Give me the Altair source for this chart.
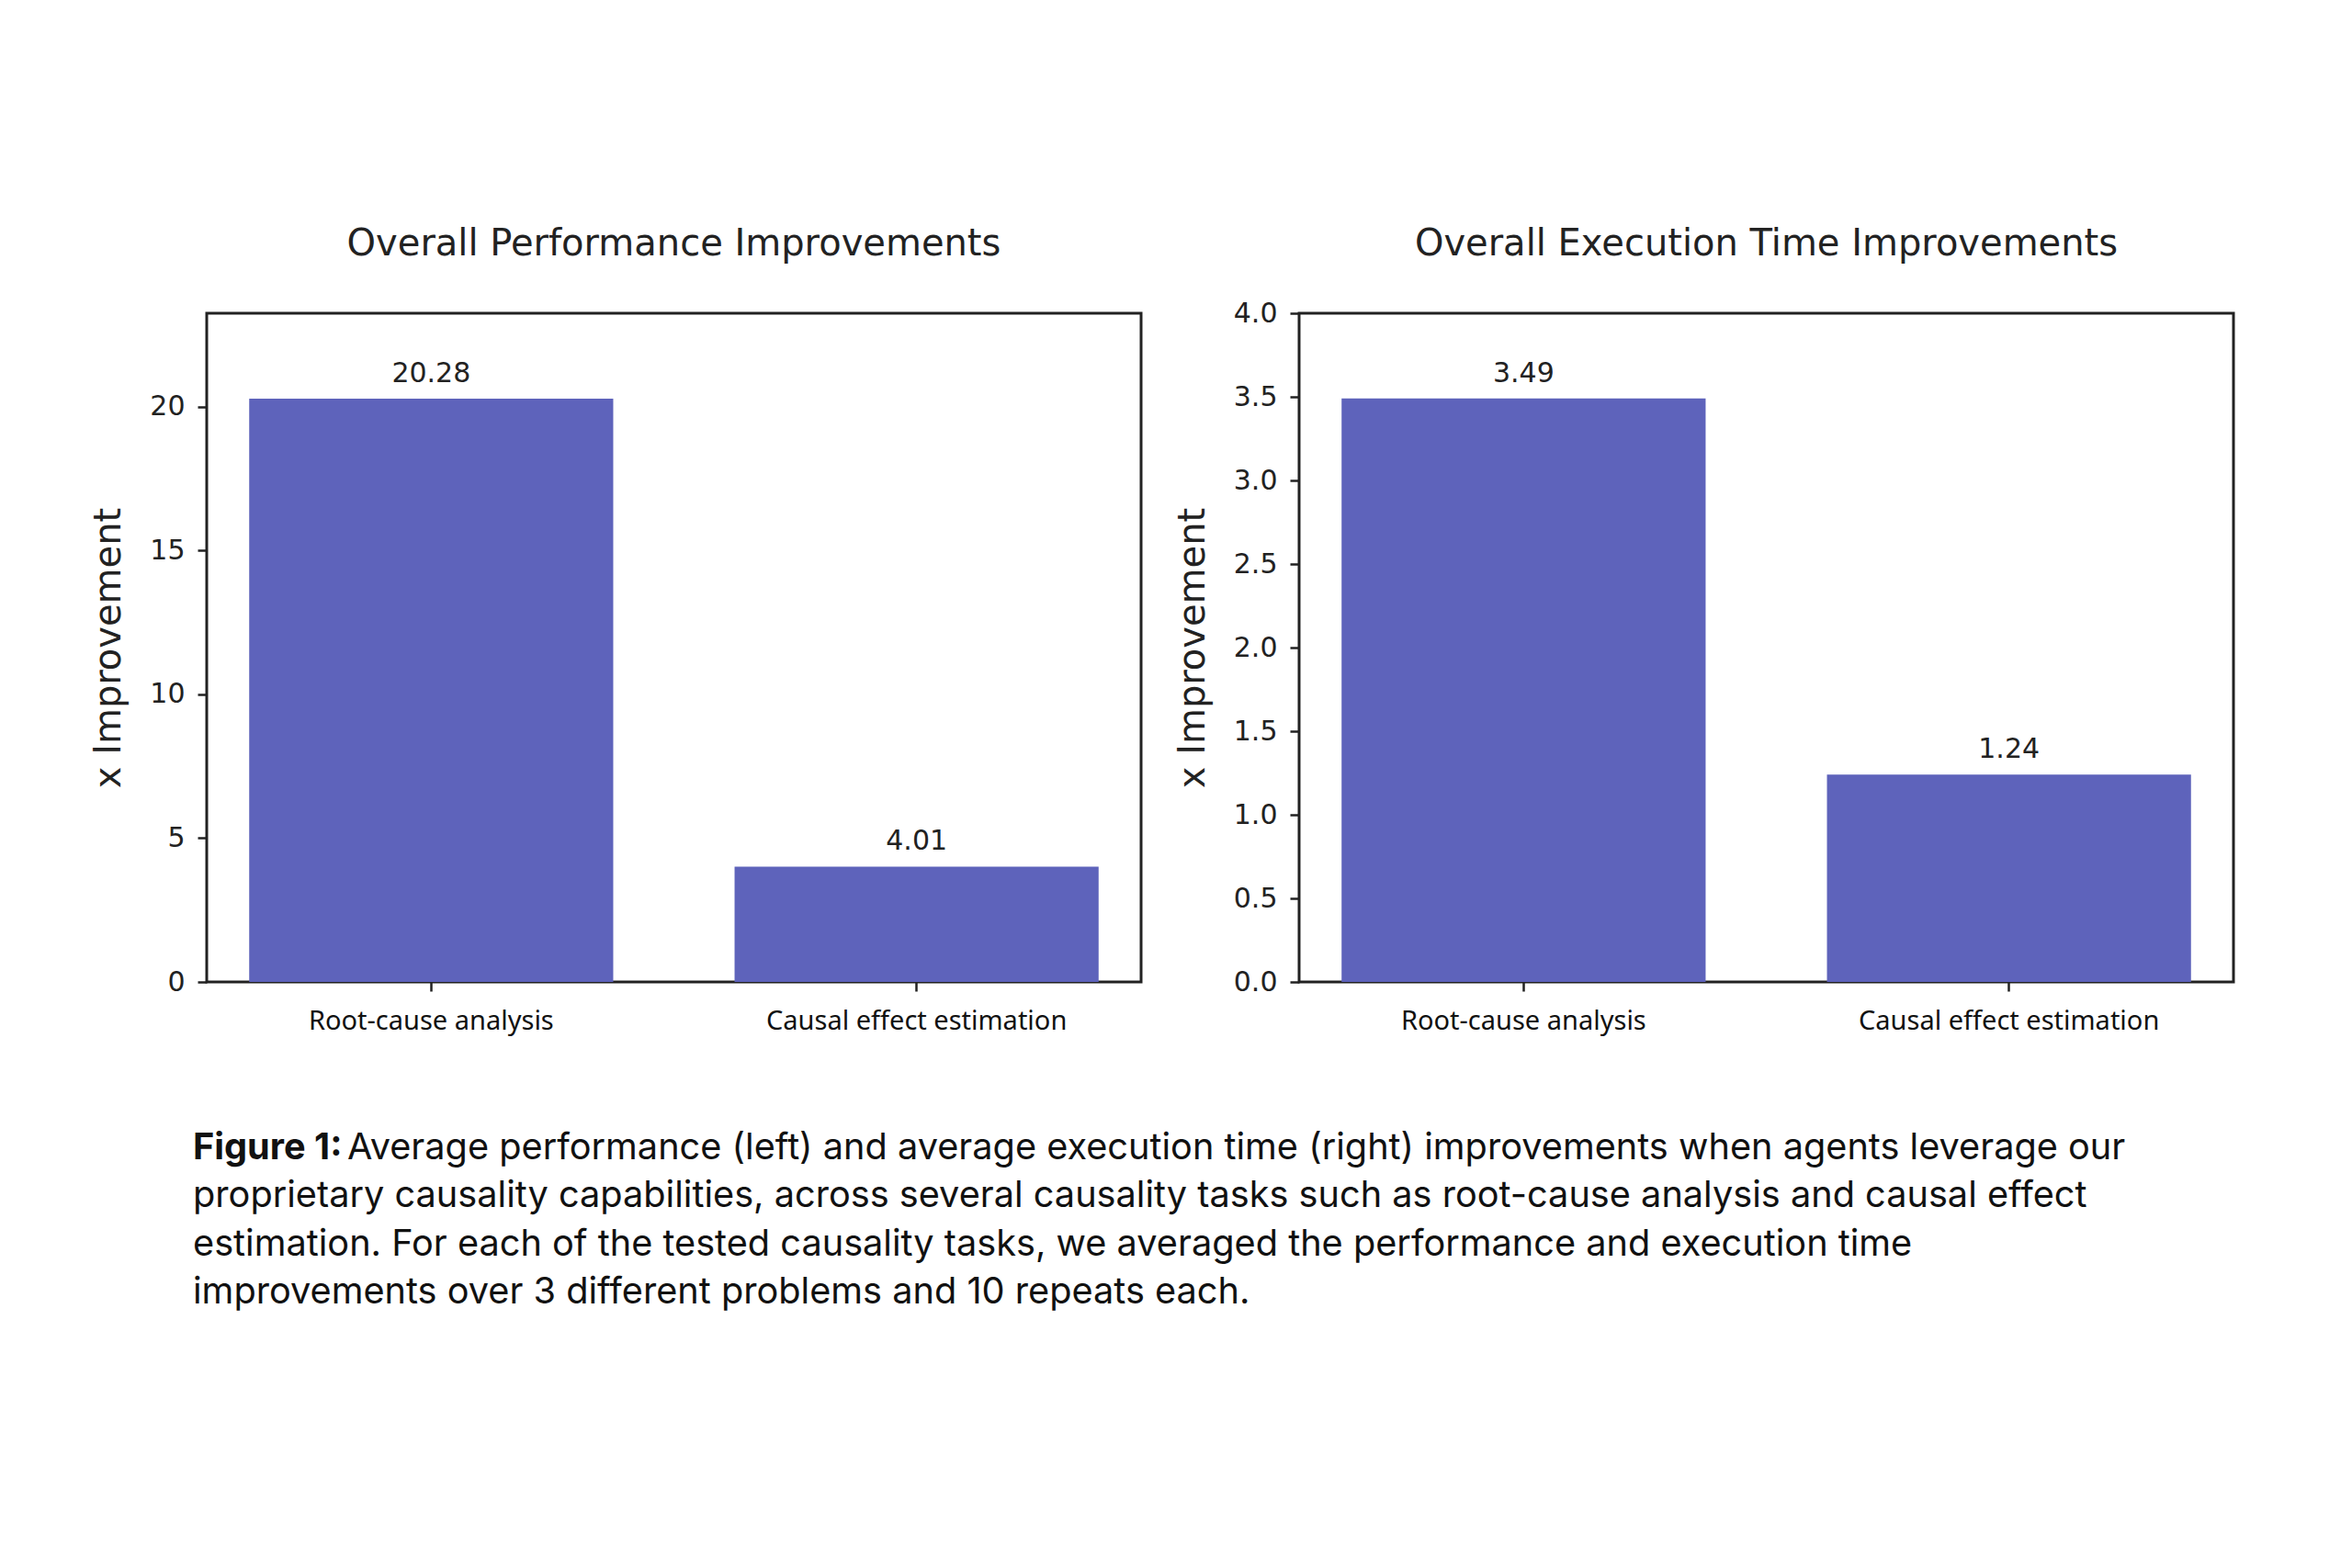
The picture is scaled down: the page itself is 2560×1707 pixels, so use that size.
import altair as alt
import pandas as pd

# ---- data ----
tasks = ["Root-cause analysis", "Causal effect estimation"]
performance = [20.28, 4.01]
exec_time = [3.49, 1.24]
perf_ticks = [0, 5, 10, 15, 20]
time_ticks = [0.0, 0.5, 1.0, 1.5, 2.0, 2.5, 3.0, 3.5, 4.0]
titles = ["Overall Performance Improvements", "Overall Execution Time Improvements"]
y_title = "x Improvement"
caption_bold = "Figure 1:"
caption_lines = [
    "Average performance (left) and average execution time (right) improvements when agents leverage our",
    "proprietary causality capabilities, across several causality tasks such as root-cause analysis and causal effect",
    "estimation. For each of the tested causality tasks, we averaged the performance and execution time",
    "improvements over 3 different problems and 10 repeats each.",
]

BAR = "#5E63BB"
INK = "#222222"
FONT = "DejaVu Sans"
PW, PH = 1017, 728


def panel(values, title, domain, ticks, fmt, title_offset):
    df = pd.DataFrame({"task": tasks, "value": values})
    base = alt.Chart(df).encode(
        x=alt.X(
            "task:N",
            sort=tasks,
            scale=alt.Scale(paddingInner=0.25, paddingOuter=0.0875),
            axis=alt.Axis(
                title=None, labelAngle=0, labelFont="Noto Sans", labelFontSize=29,
                labelColor="#111", labelPadding=18, labelLimit=0, tickSize=10,
                tickWidth=2.5, tickColor=INK, domain=False, grid=False,
            ),
        ),
        y=alt.Y(
            "value:Q",
            scale=alt.Scale(domain=domain, nice=False, zero=True),
            axis=alt.Axis(
                values=ticks, format=fmt, title=y_title, titleFont=FONT,
                titleFontSize=40, titleFontWeight="normal", titleColor=INK,
                titlePadding=24, labelFont=FONT, labelFontSize=30, labelColor=INK,
                labelPadding=14, tickSize=10, tickWidth=2.5, tickColor=INK,
                domain=False, grid=False,
            ),
        ),
    )
    bars = base.mark_bar(color=BAR)
    labels = base.mark_text(
        baseline="alphabetic", dy=-18, font=FONT, fontSize=30, color=INK
    ).encode(text=alt.Text("value:Q", format=".2f"))
    return (bars + labels).properties(
        width=PW,
        height=PH,
        view=alt.ViewBackground(stroke=INK, strokeWidth=3),
        title=alt.TitleParams(
            title, font=FONT, fontSize=40, fontWeight="normal", color=INK,
            frame="group", baseline="alphabetic", offset=title_offset,
            anchor="middle",
        ),
    )


left = panel(performance, titles[0], [0, 23.25], perf_ticks, "d", 23)
right = panel(exec_time, titles[1], [0, 4.0], time_ticks, ".1f", 8)
row = alt.hconcat(left, right, spacing=32)

Y_SCALE = alt.Scale(domain=[-1, 3], reverse=True)
cap_df = pd.DataFrame({"line": [0, 1, 2, 3], "text": caption_lines})
cap_base = alt.Chart(cap_df).encode(
    y=alt.Y("line:Q", scale=Y_SCALE, axis=None),
    text="text:N",
)
X0 = -15
CAP_FONT = "Inter"
CAP_SIZE = 39.7
bold = alt.Chart(pd.DataFrame({"line": [0], "text": [caption_bold]})).mark_text(
    font=CAP_FONT, fontSize=CAP_SIZE, fontWeight="bold", color="#111",
    align="left", baseline="alphabetic",
).encode(
    x=alt.value(X0),
    y=alt.Y("line:Q", scale=Y_SCALE, axis=None),
    text="text:N",
)
first = cap_base.transform_filter("datum.line == 0").mark_text(
    font=CAP_FONT, fontSize=CAP_SIZE, color="#111", align="left",
    baseline="alphabetic",
).encode(x=alt.value(X0 + 168))
rest = cap_base.transform_filter("datum.line > 0").mark_text(
    font=CAP_FONT, fontSize=CAP_SIZE, color="#111", align="left",
    baseline="alphabetic",
).encode(x=alt.value(X0))
caption = (bold + first + rest).properties(width=2200, height=210)

chart = alt.vconcat(row, caption, spacing=81).properties(
    padding={"left": 89, "top": 236, "right": 20, "bottom": 20},
    background="white",
).configure_view(strokeWidth=0)

chart.save("out.html", embed_options={"renderer": "svg", "actions": False})
